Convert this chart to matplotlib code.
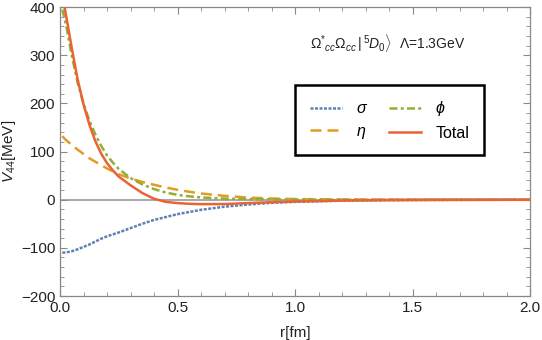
import numpy as np
import matplotlib
matplotlib.use("Agg")
import matplotlib.pyplot as plt
from matplotlib.ticker import MultipleLocator, FormatStrFormatter

plt.rcParams['font.family'] = ['Liberation Sans', 'DejaVu Sans']
plt.rcParams['mathtext.fontset'] = 'custom'
plt.rcParams['mathtext.rm'] = 'Liberation Sans'
plt.rcParams['mathtext.it'] = 'Liberation Sans:italic'

# values
r = [0.01, 0.025, 0.05, 0.075, 0.1, 0.125, 0.15, 0.175, 0.2, 0.225, 0.25, 0.3, 0.35, 0.4,
     0.45, 0.5, 0.55, 0.6, 0.7, 0.8, 0.9, 1.0, 1.2, 1.4, 1.6, 1.8, 2.0]
v_sigma = [-110, -109.5, -107, -103, -98, -93, -87, -81, -76, -72, -68, -59, -50, -42,
           -36, -30, -25.5, -21, -14.5, -10, -6.5, -4.5, -2, -1, -0.5, -0.25, -0.1]
v_eta = [132, 124, 114, 104, 95, 86, 79, 72, 65, 59, 53, 44, 37, 31,
         25.5, 20.5, 16.5, 13, 8, 4.5, 2.5, 1.3, 0.5, 0.2, 0.1, 0.05, 0.02]
v_phi = [395, 365, 300, 243, 200, 164, 136, 112, 92, 77, 64, 45, 32, 22,
         15, 10, 7, 4.8, 2.3, 1.2, 0.7, 0.4, 0.15, 0.05, 0.02, 0.01, 0.0]
v_total = [425, 385, 315, 250, 198, 156, 122, 96, 76, 61, 48, 30, 14, 2,
           -4.5, -7, -8.5, -9.2, -9, -7, -5.2, -3.8, -1.8, -0.8, -0.4, -0.2, -0.1]

labels = [r'$\sigma$', r'$\eta$', r'$\phi$', 'Total']
colors = ['#5E81B5', '#E19C24', '#8FB032', '#EB6235']
styles = [(0, (1.2, 0.6)), (0, (4.4, 2.4)), (0, (3.2, 1.3, 1.2, 1.3)), '-']

fig = plt.figure(figsize=(5.42, 3.4), dpi=100)
ax = fig.add_axes([0.1107, 0.1294, 0.8672, 0.8496])

ax.axhline(0, color='#999999', lw=1.2, zorder=1)
for vals, lab, c, ls in zip([v_sigma, v_eta, v_phi, v_total], labels, colors, styles):
    ax.plot(r, vals, color=c, ls=ls, lw=1.8, label=lab, zorder=2)

ax.set_xlim(0, 2.0)
ax.set_ylim(-200, 400)
ax.xaxis.set_major_locator(MultipleLocator(0.5))
ax.xaxis.set_minor_locator(MultipleLocator(0.1))
ax.yaxis.set_major_locator(MultipleLocator(100))
ax.yaxis.set_minor_locator(MultipleLocator(20))
ax.xaxis.set_major_formatter(FormatStrFormatter('%.1f'))
ax.tick_params(which='both', direction='in', top=True, right=True, colors='#888888',
               labelcolor='#222222', labelsize=11)
ax.tick_params(which='major', length=5)
ax.tick_params(which='minor', length=3)
for s in ax.spines.values():
    s.set_color('#888888')
    s.set_linewidth(0.9)

ax.set_xlabel('r[fm]', fontsize=11, color='#222222', labelpad=8)
ax.set_ylabel(r'$V_{44}$[MeV]', fontsize=11, color='#222222', labelpad=2)

ax.text(0.532, 0.855, r'$\Omega^{*}{}_{cc}\Omega_{cc}\,|\,{}^{5}D_{0}\rangle$  Λ=1.3GeV',
        transform=ax.transAxes, fontsize=10, color='#222222')

leg = ax.legend(ncol=2, loc='center', bbox_to_anchor=(0.701, 0.609), fontsize=11.5,
                frameon=True, fancybox=False, edgecolor='black', framealpha=1,
                handlelength=2.0, handletextpad=0.9, columnspacing=1.3,
                borderpad=0.9, labelspacing=0.45)
leg.get_frame().set_linewidth(1.8)

fig.savefig('out.png', dpi=100)
